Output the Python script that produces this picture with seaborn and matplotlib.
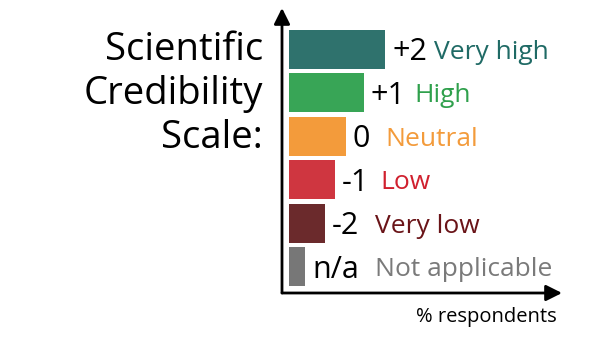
import matplotlib
matplotlib.use("Agg")
import matplotlib.pyplot as plt
import seaborn as sns

categories = ["+2", "+1", "0", "-1", "-2", "n/a"]
descriptions = ["Very high", "High", "Neutral", "Low", "Very low", "Not applicable"]
values = [32, 25, 19, 15.3, 12, 5.3]
bar_colors = ["#2f726d", "#38a556", "#f39b3b", "#cf3640", "#6b2a2c", "#777777"]
text_colors = ["#1f6a65", "#2fa04c", "#f39b3b", "#d0202e", "#6a1418", "#7a7a7a"]
title_lines = ["Scientific", "Credibility", "Scale:"]
xlabel = "% respondents"

sns.set_theme(style="white")
plt.rcParams["font.family"] = ["Open Sans", "DejaVu Sans"]

W, H = 600, 337
fig = plt.figure(figsize=(6, 3.37), dpi=100)
ax = fig.add_axes([282 / W, 44 / H, 280 / W, 285 / H])

sns.barplot(x=values, y=categories, hue=categories, palette=bar_colors,
            legend=False, width=0.9, saturation=1, orient="h", ax=ax,
            edgecolor="none")

ax.set_xlim(-7 / 3, 273 / 3)
ax.set_ylim(5.6, -0.95)
for s in ax.spines.values():
    s.set_visible(False)
ax.set_xticks([])
ax.set_yticks([])
ax.set_xlabel("")
ax.set_ylabel("")

arrow = dict(arrowstyle="-|>", lw=2, color="black", mutation_scale=24,
             shrinkA=0, shrinkB=0)
ax.annotate("", xy=(0, 1), xytext=(0, 0), xycoords="axes fraction", arrowprops=arrow)
ax.annotate("", xy=(1, 0), xytext=(0, 0), xycoords="axes fraction", arrowprops=arrow)

px2pt = 72 / 100
num_size = 22
desc_size = 19
gaps = [7, 8, 15, 11, 16, 16]
num_texts = []
for i, (cat, v) in enumerate(zip(categories, values)):
    t = ax.annotate(cat, xy=(v, i), xytext=(7 * px2pt, -11 * px2pt),
                    textcoords="offset points", ha="left", va="baseline",
                    fontsize=num_size, color="black")
    num_texts.append(t)

fig.canvas.draw()
r = fig.canvas.get_renderer()
for i, (t, d, c, v, g) in enumerate(zip(num_texts, descriptions, text_colors, values, gaps)):
    bb = t.get_window_extent(r)
    x0 = ax.transData.transform((v, i))[0]
    off = bb.x1 - x0 + g
    ax.annotate(d, xy=(v, i), xytext=(off * px2pt, -9.5 * px2pt),
                textcoords="offset points", ha="left", va="baseline",
                fontsize=desc_size, color=c)

baselines = [60, 104, 148]
for line, b in zip(title_lines, baselines):
    fig.text(263 / W, 1 - b / H, line, ha="right", va="baseline",
             fontsize=27.5, color="black")

fig.text(486 / W, 1 - 317 / H, xlabel, ha="center", va="center",
         fontsize=14.5, color="black")

fig.savefig("out.png", dpi=100)
